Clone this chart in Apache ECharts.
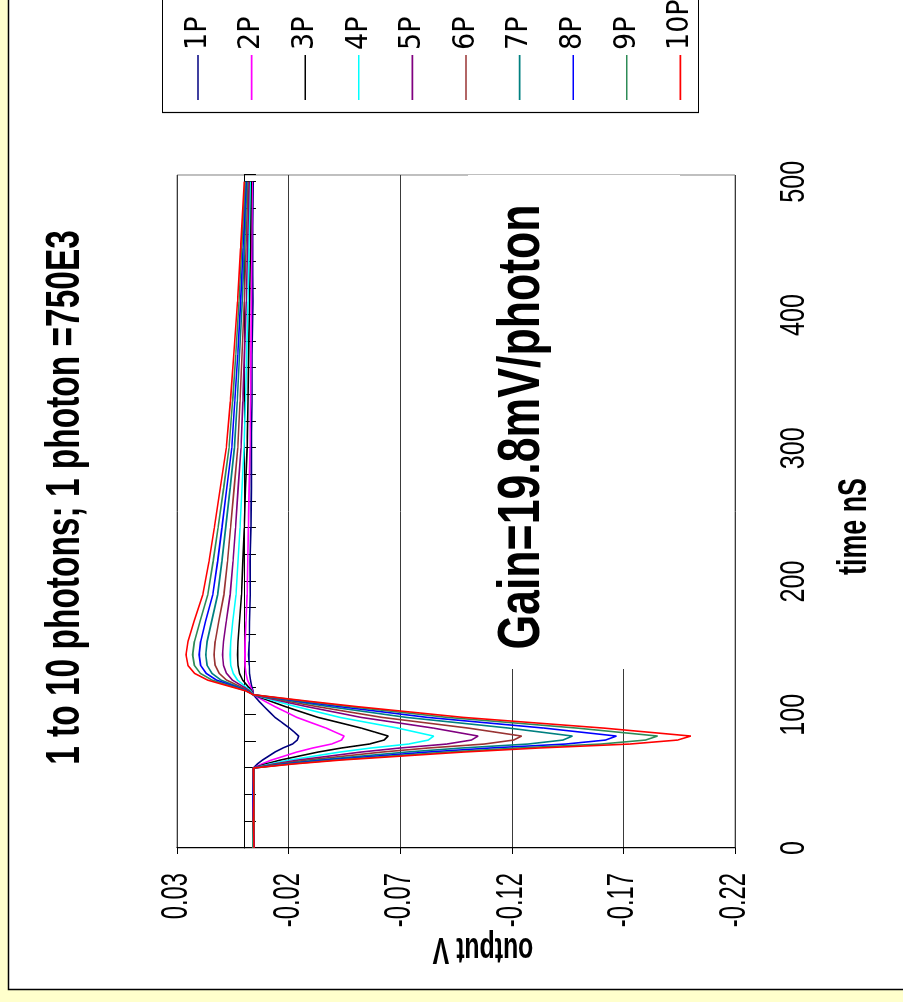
<!DOCTYPE html>
<html>
<head>
<meta charset="utf-8">
<script src="https://cdn.jsdelivr.net/npm/echarts@6/dist/echarts.min.js"></script>
<style>
  html, body { margin: 0; padding: 0; width: 903px; height: 1002px; overflow: hidden; background: #fff; }
  /* The chart is laid out landscape (1002 x 903) and turned a quarter turn counter-clockwise. */
  #chart { position: absolute; left: 0; top: 0; width: 1002px; height: 903px;
           transform-origin: 0 0; transform: translate(0px, 1002px) rotate(-90deg); }
</style>
</head>
<body>
<div id="chart"></div>
<script>
// Sample times (ns), shared by every trace
const timeNs = [0, 20, 40, 60, 63, 66, 69, 72, 75, 78, 81, 84, 87, 90, 94, 98, 102, 106, 110, 115,
                118, 122, 126, 131, 137, 145, 155, 170, 190, 215, 240, 270, 300, 335, 370, 410, 450, 500];

const seriesNames = ['1P', '2P', '3P', '4P', '5P', '6P', '7P', '8P', '9P', '10P'];
const seriesColors = ['#000080', '#FF00FF', '#000000', '#00FFFF', '#800080',
                      '#993333', '#008080', '#0000FF', '#2E8B57', '#FF0000'];

// Output voltage (V) for 1 to 10 photons
const out1P = [-0.0044, -0.0041, -0.0045, -0.0042,
  -0.0060, -0.0083, -0.0111, -0.0139, -0.0174, -0.0217, -0.0239, -0.0245, -0.0225, -0.0204, -0.0172, -0.0139, -0.0115, -0.0091, -0.0068,
  -0.0042,
  -0.0040, -0.0034, -0.0029, -0.0025, -0.0024, -0.0021, -0.0024, -0.0025, -0.0028, -0.0027, -0.0031, -0.0033, -0.0032, -0.0036, -0.0036, -0.0040, -0.0038, -0.0041];
const out2P = [-0.0043, -0.0046, -0.0041, -0.0042,
  -0.0079, -0.0123, -0.0180, -0.0237, -0.0307, -0.0392, -0.0437, -0.0449, -0.0408, -0.0368, -0.0302, -0.0237, -0.0189, -0.0140, -0.0095,
  -0.0042,
  -0.0037, -0.0027, -0.0016, -0.0009, -0.0005, -0.0004, -0.0005, -0.0009, -0.0014, -0.0017, -0.0020, -0.0023, -0.0027, -0.0029, -0.0031, -0.0033, -0.0035, -0.0037];
const out3P = [-0.0045, -0.0042, -0.0044, -0.0042,
  -0.0096, -0.0163, -0.0247, -0.0332, -0.0435, -0.0561, -0.0628, -0.0646, -0.0586, -0.0525, -0.0429, -0.0332, -0.0259, -0.0187, -0.0121,
  -0.0042,
  -0.0034, -0.0014, 0.0006, 0.0020, 0.0027, 0.0029, 0.0027, 0.0020, 0.0011, 0.0005, -0.0001, -0.0007, -0.0014, -0.0018, -0.0021, -0.0025, -0.0029, -0.0032];
const out4P = [-0.0041, -0.0044, -0.0043, -0.0042,
  -0.0115, -0.0204, -0.0317, -0.0430, -0.0567, -0.0737, -0.0826, -0.0850, -0.0769, -0.0688, -0.0559, -0.0430, -0.0333, -0.0236, -0.0147,
  -0.0042,
  -0.0030, 0.0000, 0.0029, 0.0048, 0.0059, 0.0062, 0.0059, 0.0050, 0.0036, 0.0027, 0.0018, 0.0009, 0.0000, -0.0007, -0.0012, -0.0018, -0.0022, -0.0028];
const out5P = [-0.0046, -0.0043, -0.0041, -0.0042,
  -0.0133, -0.0243, -0.0384, -0.0525, -0.0697, -0.0908, -0.1019, -0.1049, -0.0948, -0.0848, -0.0687, -0.0525, -0.0405, -0.0284, -0.0173,
  -0.0042,
  -0.0025, 0.0013, 0.0052, 0.0078, 0.0092, 0.0096, 0.0092, 0.0079, 0.0062, 0.0049, 0.0038, 0.0026, 0.0013, 0.0005, -0.0002, -0.0010, -0.0016, -0.0023];
const out6P = [-0.0043, -0.0045, -0.0042, -0.0042,
  -0.0150, -0.0282, -0.0451, -0.0619, -0.0823, -0.1076, -0.1208, -0.1244, -0.1124, -0.1004, -0.0811, -0.0619, -0.0475, -0.0331, -0.0198,
  -0.0042,
  -0.0021, 0.0028, 0.0078, 0.0111, 0.0129, 0.0134, 0.0129, 0.0113, 0.0090, 0.0074, 0.0060, 0.0044, 0.0028, 0.0018, 0.0009, -0.0001, -0.0009, -0.0018];
const out7P = [-0.0042, -0.0040, -0.0046, -0.0042,
  -0.0171, -0.0328, -0.0528, -0.0728, -0.0972, -0.1272, -0.1429, -0.1472, -0.1329, -0.1186, -0.0957, -0.0728, -0.0557, -0.0385, -0.0228,
  -0.0042,
  -0.0016, 0.0043, 0.0103, 0.0143, 0.0165, 0.0171, 0.0165, 0.0145, 0.0118, 0.0099, 0.0082, 0.0062, 0.0043, 0.0030, 0.0020, 0.0008, -0.0002, -0.0013];
const out8P = [-0.0044, -0.0043, -0.0040, -0.0042,
  -0.0188, -0.0367, -0.0595, -0.0823, -0.1100, -0.1441, -0.1620, -0.1669, -0.1506, -0.1344, -0.1083, -0.0823, -0.0628, -0.0433, -0.0254,
  -0.0042,
  -0.0013, 0.0055, 0.0123, 0.0169, 0.0194, 0.0201, 0.0194, 0.0172, 0.0140, 0.0118, 0.0099, 0.0077, 0.0055, 0.0041, 0.0028, 0.0015, 0.0004, -0.0009];
const out9P = [-0.0041, -0.0045, -0.0043, -0.0042,
  -0.0205, -0.0404, -0.0658, -0.0911, -0.1219, -0.1599, -0.1799, -0.1853, -0.1672, -0.1491, -0.1201, -0.0911, -0.0694, -0.0477, -0.0277,
  -0.0042,
  -0.0009, 0.0067, 0.0143, 0.0195, 0.0222, 0.0230, 0.0222, 0.0197, 0.0162, 0.0138, 0.0116, 0.0091, 0.0067, 0.0051, 0.0037, 0.0022, 0.0010, -0.0005];
const out10P = [-0.0045, -0.0042, -0.0044, -0.0042,
  -0.0218, -0.0434, -0.0708, -0.0983, -0.1316, -0.1728, -0.1943, -0.2002, -0.1806, -0.1610, -0.1296, -0.0983, -0.0748, -0.0512, -0.0297,
  -0.0042,
  -0.0006, 0.0079, 0.0163, 0.0221, 0.0251, 0.0260, 0.0251, 0.0224, 0.0185, 0.0157, 0.0133, 0.0106, 0.0079, 0.0061, 0.0046, 0.0029, 0.0015, -0.0001];

const seriesValues = [out1P, out2P, out3P, out4P, out5P, out6P, out7P, out8P, out9P, out10P];

// Axis ranges, steps and tick labels
const timeRange = [0, 505];
const timeTickStep = 20;
const timeTickValues = [0, 100, 200, 300, 400, 500];
const voltRange = [-0.22, 0.03];
const voltStep = 0.05;
const voltTickValues = [0.03, -0.02, -0.07, -0.12, -0.17, -0.22];
const voltTickLabels = ['0.03', '-0.02', '-0.07', '-0.12', '-0.17', '-0.22'];

const narrowFont = '"Liberation Sans Narrow", "DejaVu Sans Condensed", "Liberation Sans", sans-serif';
const baseFont = '"Liberation Sans", Arial, sans-serif';

const chart = echarts.init(document.getElementById('chart'), null, { renderer: 'canvas' });

// Condensed text helper: Excel-style narrow lettering
function condensedText(text, x, y, font, squeeze, align, extra) {
  return Object.assign({
    type: 'text', z: 5, silent: true, x: x, y: y, scaleX: squeeze,
    style: { text: text, font: font, fill: '#000',
             textAlign: align, textVerticalAlign: 'middle', align: align, verticalAlign: 'middle' }
  }, extra || {});
}

const staticGraphics = [
  { type: 'rect', z: -100, silent: true, shape: { x: 0, y: 0, width: 1002, height: 903 }, style: { fill: '#FFFFCC' } },
  { type: 'rect', z: -99, silent: true, shape: { x: 12.5, y: 8.5, width: 1100, height: 1000 }, style: { fill: '#FFFFFF', stroke: '#000', lineWidth: 1.5 } },
  { type: 'rect', z: 1, silent: true, shape: { x: 889.5, y: 162.5, width: 200, height: 536 }, style: { fill: '#FFFFFF', stroke: '#000', lineWidth: 1.2 } },
  { type: 'rect', z: 1, silent: true, shape: { x: 333, y: 468, width: 494, height: 212 }, style: { fill: '#FFFFFF' } },
  condensedText('Gain=19.8mV/photon', 575, 522, 'bold 60px ' + baseFont, 0.744, 'center'),
  condensedText('1 to 10 photons; 1 photon =750E3', 504.5, 65, 'bold 49px ' + baseFont, 0.683, 'center'),
  condensedText('time nS', 475.5, 855, 'bold 40px ' + baseFont, 0.67, 'center'),
  condensedText('output V', 54, 483, 'bold 36px ' + baseFont, 0.69, 'center', { rotation: Math.PI / 2 })
];

const option = {
  animation: false,
  backgroundColor: 'transparent',
  grid: {
    left: 154, top: 177, width: 673, height: 558,
    show: true, borderColor: '#808080', borderWidth: 1, backgroundColor: 'transparent'
  },
  xAxis: [
    { // time scale used by the traces (labels drawn as condensed text below)
      type: 'value', position: 'bottom',
      min: timeRange[0], max: timeRange[1], interval: 100,
      axisLine: { show: false, onZero: false }, axisTick: { show: false },
      splitLine: { show: false }, axisLabel: { show: false }
    },
    { // time axis line crossing at 0 V, with minor ticks
      type: 'value', position: 'top',
      min: timeRange[0], max: timeRange[1], interval: timeTickStep,
      axisLine: { show: true, onZero: true, lineStyle: { color: '#000', width: 1 } },
      axisTick: { show: true, inside: true, length: 12, lineStyle: { color: '#000', width: 1 } },
      axisLabel: { show: false }, splitLine: { show: false }
    }
  ],
  yAxis: {
    type: 'value', min: voltRange[0], max: voltRange[1], interval: voltStep,
    axisLine: { show: true, onZero: false, lineStyle: { color: '#000', width: 1 } },
    axisTick: { show: true, length: 6, lineStyle: { color: '#000', width: 1 } },
    splitLine: { show: true, lineStyle: { color: '#3a3a3a', width: 1 } },
    axisLabel: { show: false }
  },
  legend: {
    orient: 'vertical', left: 897, top: 178, z: 10,
    icon: 'rect', itemWidth: 45, itemHeight: 1.6, itemGap: 23.6,
    textStyle: { color: '#000', fontFamily: narrowFont, fontSize: 30, lineHeight: 30 },
    data: seriesNames
  },
  graphic: staticGraphics,
  series: seriesNames.map((name, i) => ({
    name: name,
    type: 'line',
    xAxisIndex: 0,
    yAxisIndex: 0,
    symbol: 'none',
    showSymbol: false,
    z: 3,
    lineStyle: { color: seriesColors[i], width: 1.6 },
    itemStyle: { color: seriesColors[i] },
    data: timeNs.map((t, k) => [t, seriesValues[i][k]])
  }))
};

chart.setOption(option);

// Tick labels, placed through the chart's own scales
const tickLabels = [];
voltTickValues.forEach((v, i) => {
  const p = chart.convertToPixel({ seriesIndex: 0 }, [timeRange[0], v]);
  tickLabels.push(condensedText(voltTickLabels[i], p[0] - 25, p[1], '36px ' + baseFont, 0.66, 'right'));
});
timeTickValues.forEach(t => {
  const p = chart.convertToPixel({ seriesIndex: 0 }, [t, voltRange[0]]);
  tickLabels.push(condensedText(String(t), p[0], p[1] + 59, '35px ' + baseFont, 0.72, 'center'));
});

chart.setOption({ graphic: staticGraphics.concat(tickLabels) });
</script>
</body>
</html>
